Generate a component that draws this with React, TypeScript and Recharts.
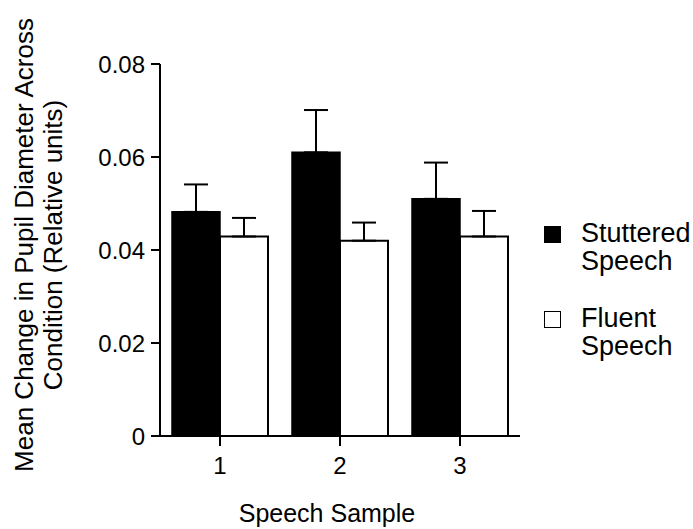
import { Bar, BarChart, ErrorBar, Legend, XAxis, YAxis } from "recharts";

const FONT = "'Liberation Sans', Arial, Helvetica, sans-serif";

const samples = ["1", "2", "3"];
const stuttered = [0.0482, 0.061, 0.051];
const stutteredErr = [0.0059, 0.0091, 0.0078];
const fluent = [0.0429, 0.042, 0.0429];
const fluentErr = [0.004, 0.0039, 0.0055];
const yTicks = [0, 0.02, 0.04, 0.06, 0.08];
const seriesOrder = ["stuttered", "fluent"];

const data = samples.map((s, i) => ({
  sample: s,
  stuttered: stuttered[i],
  stutteredErr: [0, stutteredErr[i]],
  fluent: fluent[i],
  fluentErr: [0, fluentErr[i]],
}));

const TICK = { fill: "#000", fontSize: 24, fontFamily: FONT };

function YLabel() {
  return (
    <g fontFamily={FONT} fontSize={26} fill="#000">
      <text x={33} y={245} transform="rotate(-90 33 245)" textAnchor="middle">
        Mean Change in Pupil Diameter Across
      </text>
      <text x={62} y={245} transform="rotate(-90 62 245)" textAnchor="middle">
        Condition (Relative units)
      </text>
    </g>
  );
}

function XLabel() {
  return (
    <text x={327} y={522} textAnchor="middle" fontFamily={FONT} fontSize={25} fill="#000">
      Speech Sample
    </text>
  );
}

function LegendBox({ payload }: any) {
  const items = (payload ?? [])
    .slice()
    .sort((a: any, b: any) => seriesOrder.indexOf(a.dataKey) - seriesOrder.indexOf(b.dataKey));
  return (
    <div style={{ display: "flex", flexDirection: "column", gap: 29, fontFamily: FONT, fontSize: 27, lineHeight: "28px", color: "#000" }}>
      {items.map((p: any) => {
        const [a, b] = String(p.value).split(" ");
        const filled = p.dataKey === "stuttered";
        return (
          <div key={a} style={{ display: "flex", alignItems: "flex-start" }}>
            <div
              style={{
                width: 17,
                height: 17,
                marginTop: 7,
                boxSizing: "border-box",
                background: filled ? "#000" : "#fff",
                border: "1.5px solid #000",
              }}
            />
            <div style={{ marginLeft: 20 }}>
              <div>{a}</div>
              <div>{b}</div>
            </div>
          </div>
        );
      })}
    </div>
  );
}

export default function App() {
  return (
    <div style={{ position: "absolute", left: 0, top: 0, background: "#fff" }}>
      <BarChart
        width={693}
        height={529}
        data={data}
        margin={{ top: 64, right: 173, bottom: 0, left: 0 }}
        barCategoryGap="10%"
        barGap={0}
      >
        <XAxis
          dataKey="sample"
          height={93}
          tick={TICK}
          tickSize={10}
          tickMargin={11}
          axisLine={{ stroke: "#000", strokeWidth: 2 }}
          tickLine={{ stroke: "#000", strokeWidth: 2 }}
          label={<XLabel />}
        />
        <YAxis
          width={160}
          domain={[0, 0.08]}
          ticks={yTicks}
          interval={0}
          tick={TICK}
          tickSize={9}
          tickMargin={6}
          tickFormatter={(v: number) => (v === 0 ? "0" : v.toFixed(2))}
          axisLine={{ stroke: "#000", strokeWidth: 2 }}
          tickLine={{ stroke: "#000", strokeWidth: 2 }}
          label={<YLabel />}
        />
        <Legend
          layout="horizontal"
          align="center"
          verticalAlign="middle"
          content={<LegendBox />}
          wrapperStyle={{ left: 544, top: 219, width: 150 }}
        />
        <Bar dataKey="stuttered" name="Stuttered Speech" fill="#000" stroke="#000" strokeWidth={1.5} isAnimationActive={false}>
          <ErrorBar dataKey="stutteredErr" direction="y" width={12} stroke="#000" strokeWidth={2} />
        </Bar>
        <Bar dataKey="fluent" name="Fluent Speech" fill="#fff" stroke="#000" strokeWidth={2} isAnimationActive={false}>
          <ErrorBar dataKey="fluentErr" direction="y" width={12} stroke="#000" strokeWidth={2} />
        </Bar>
      </BarChart>
    </div>
  );
}
